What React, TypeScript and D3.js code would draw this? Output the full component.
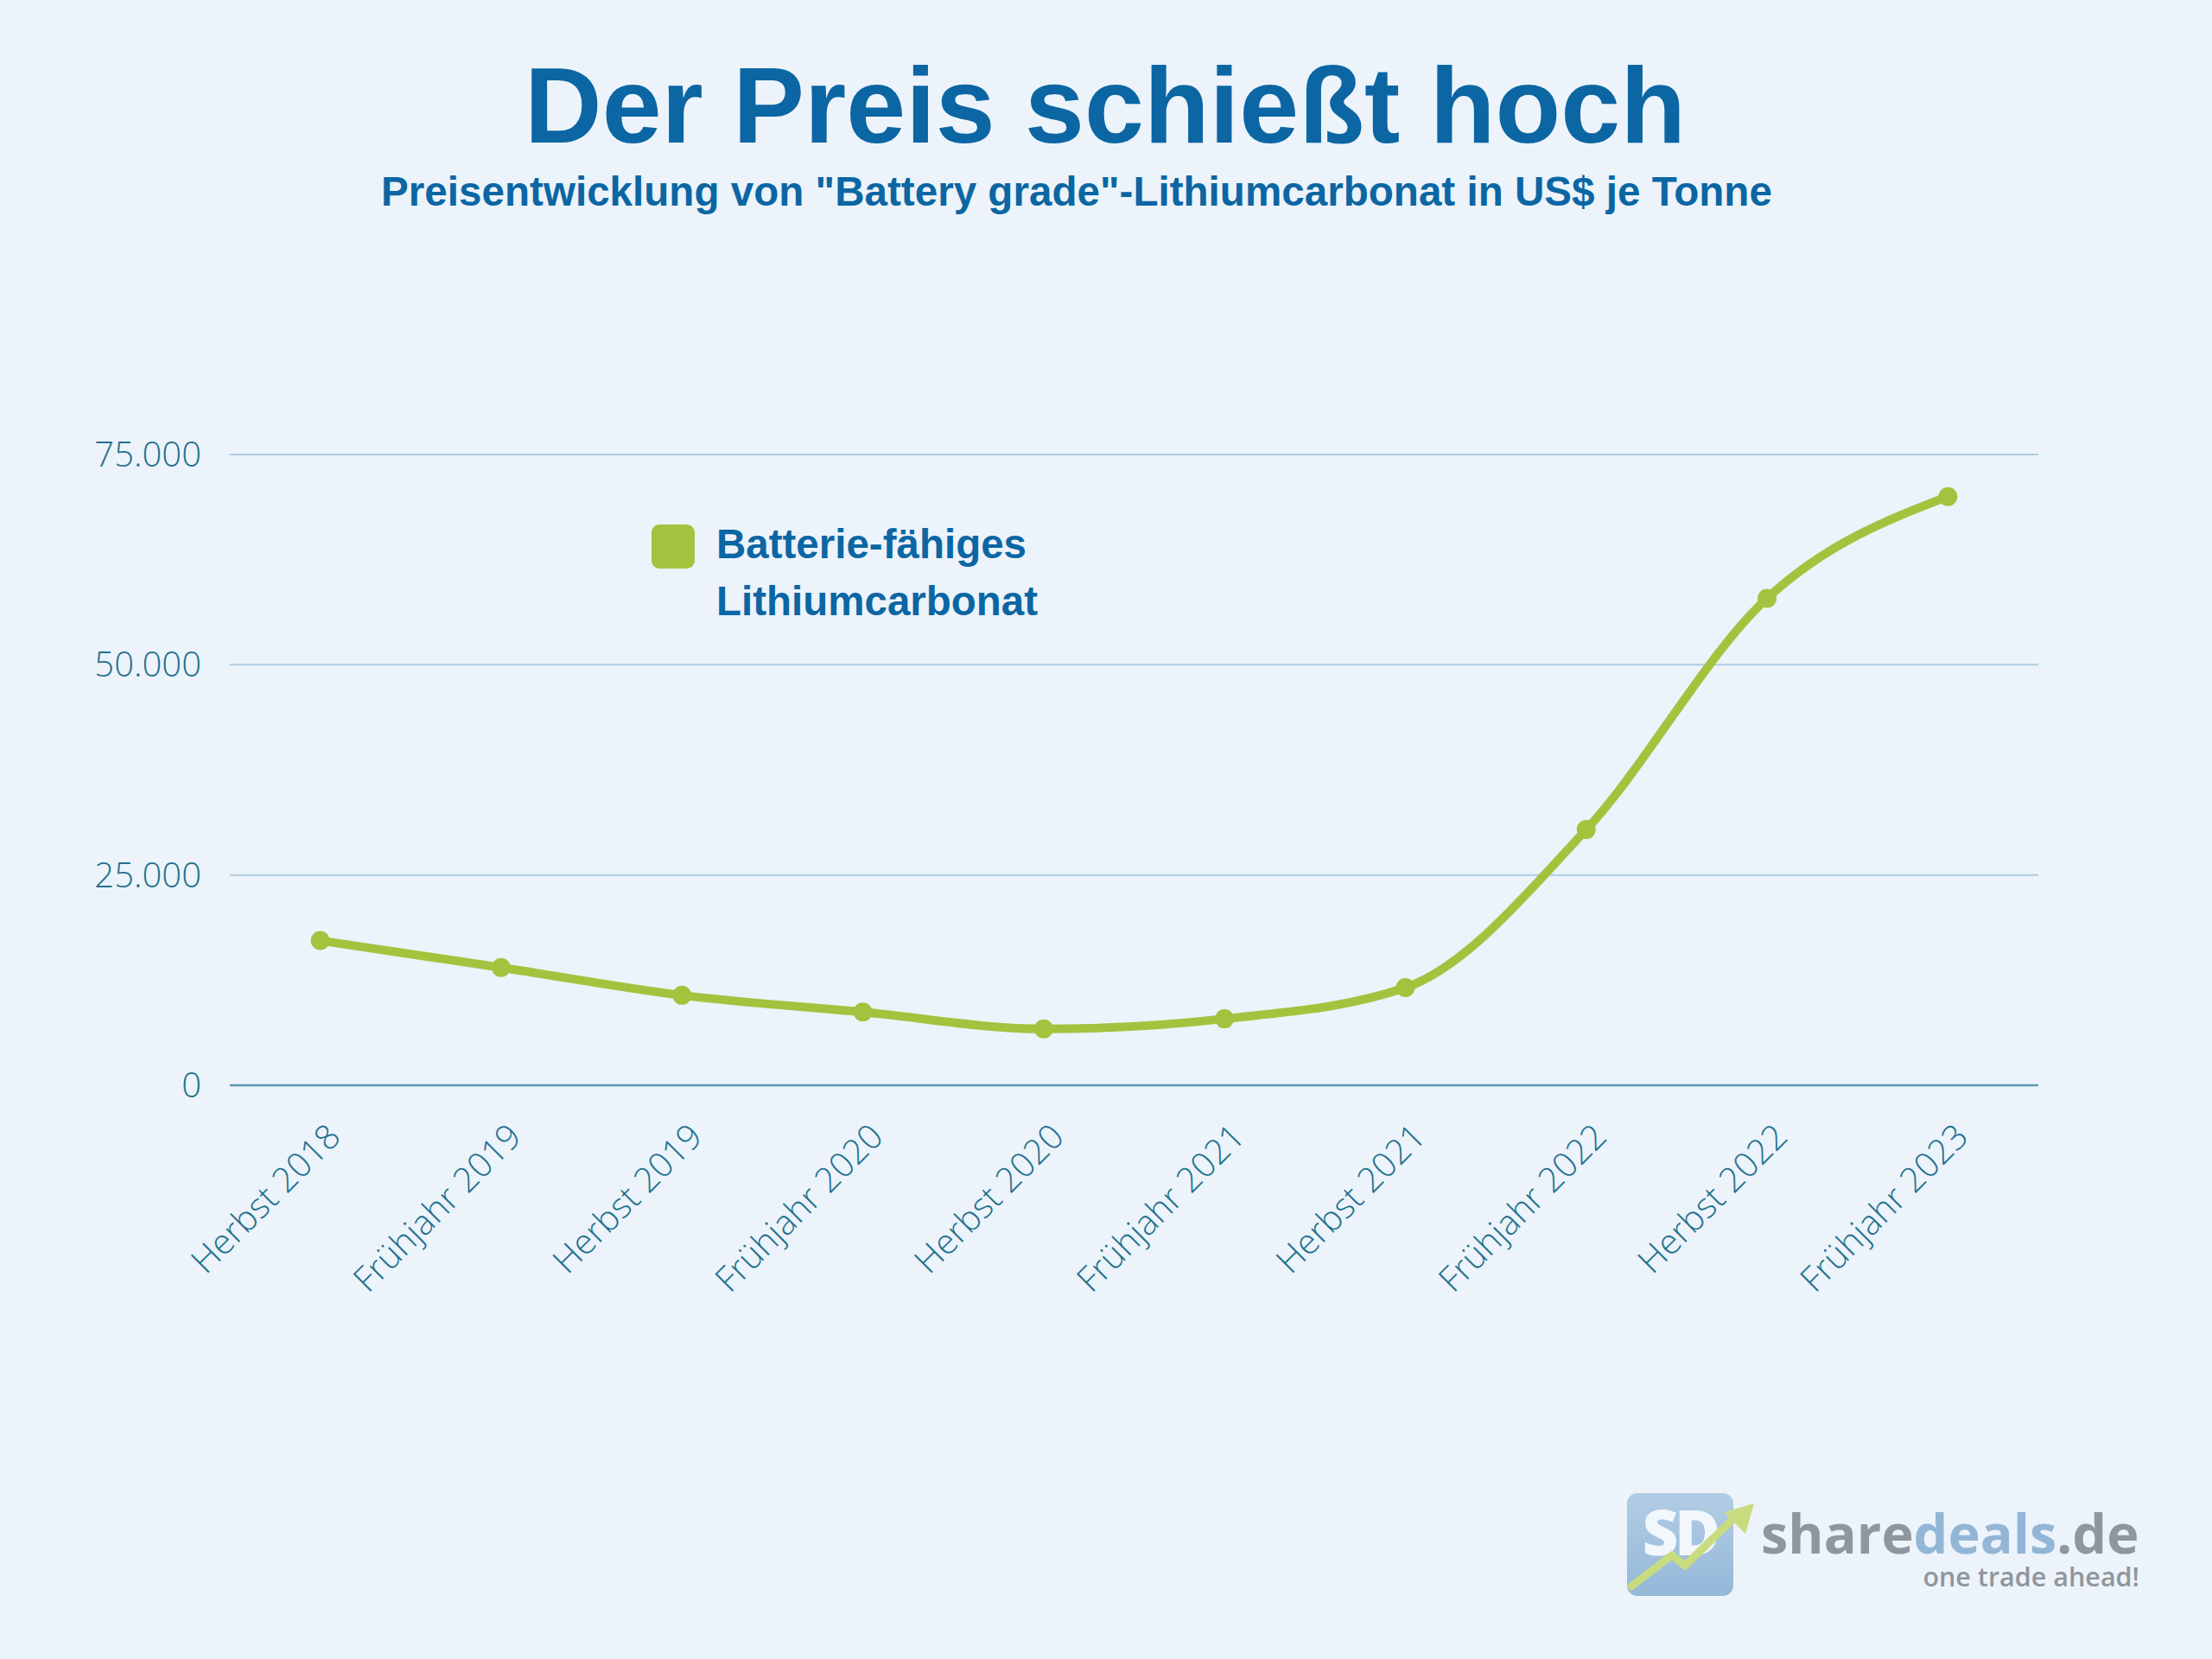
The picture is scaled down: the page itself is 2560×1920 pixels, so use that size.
import React from 'react';
import * as d3 from 'd3';

const categories = [
  'Herbst 2018', 'Frühjahr 2019', 'Herbst 2019', 'Frühjahr 2020', 'Herbst 2020',
  'Frühjahr 2021', 'Herbst 2021', 'Frühjahr 2022', 'Herbst 2022', 'Frühjahr 2023',
];
const prices = [17200, 14000, 10700, 8700, 6700, 7900, 11600, 30400, 57900, 70000];
const yTicks = [0, 25000, 50000, 75000];

const title = 'Der Preis schießt hoch';
const subtitle = 'Preisentwicklung von "Battery grade"-Lithiumcarbonat in US$ je Tonne';
const legendLines = ['Batterie-fähiges', 'Lithiumcarbonat'];

const W = 2560;
const H = 1920;
const BG = '#ecf3fa';
const GREEN = '#a5c23f';
const BLUE = '#0b66a3';
const TEAL = '#22718e';

const App = () => {
  const x = d3.scalePoint<string>().domain(categories).range([266, 2359]).padding(0.5);
  const y = d3.scaleLinear().domain([0, 75000]).range([1256, 526]);
  const fmt = (v: number) => d3.format(',')(v).replace(/,/g, '.');

  const line = d3.line<number>()
    .x((_, i) => x(categories[i]) as number)
    .y(d => y(d))
    .curve(d3.curveMonotoneX);

  return (
    <svg width={W} height={H} style={{ position: 'absolute', left: 0, top: 0, display: 'block' }}>
      <rect width={W} height={H} fill={BG} />

      {/* titles */}
      <text x={1279} y={165} textAnchor="middle" fill={BLUE}
        fontFamily="Liberation Sans, Arial, sans-serif" fontWeight="bold" fontSize={124}>
        {title}
      </text>
      <text x={1246} y={238} textAnchor="middle" fill={BLUE}
        fontFamily="Liberation Sans, Arial, sans-serif" fontWeight="bold" fontSize={47.6}>
        {subtitle}
      </text>

      {/* grid + y labels */}
      {yTicks.map(t => (
        <g key={t}>
          <line x1={266} x2={2359} y1={y(t)} y2={y(t)}
            stroke={t === 0 ? '#5e97b0' : '#aecde0'} strokeWidth={t === 0 ? 2.5 : 2} />
          <text x={233} y={y(t)} dy="0.35em" textAnchor="end" fill={TEAL}
            fontFamily="Open Sans, sans-serif" fontWeight={300} fontSize={40}>
            {fmt(t)}
          </text>
        </g>
      ))}

      {/* x labels */}
      {categories.map(c => {
        const px = (x(c) as number) + 6;
        const py = 1298;
        return (
          <text key={c} x={px} y={py} textAnchor="end" fill={TEAL}
            transform={`rotate(-45 ${px} ${py})`} dy="0.7em"
            fontFamily="Open Sans, sans-serif" fontWeight={300} fontSize={40}>
            {c}
          </text>
        );
      })}

      {/* series */}
      <path d={line(prices) || ''} fill="none" stroke={GREEN} strokeWidth={10}
        strokeLinecap="round" strokeLinejoin="round" />
      {prices.map((p, i) => (
        <circle key={i} cx={x(categories[i]) as number} cy={y(p)} r={11} fill={GREEN} />
      ))}

      {/* legend */}
      <rect x={754} y={607} width={50} height={51} rx={9} fill={GREEN} />
      {legendLines.map((t, i) => (
        <text key={t} x={829} y={646 + i * 66} fill={BLUE}
          fontFamily="Liberation Sans, Arial, sans-serif" fontWeight="bold" fontSize={47.5}>
          {t}
        </text>
      ))}

      {/* logo */}
      <g opacity={0.85}>
        <defs>
          <linearGradient id="sdg" x1="0" y1="0" x2="0" y2="1">
            <stop offset="0" stopColor="#a9c6e0" />
            <stop offset="1" stopColor="#86afd4" />
          </linearGradient>
        </defs>
        <rect x={1883} y={1728} width={123} height={119} rx={12} fill="url(#sdg)" />
        <text x={1944} y={1800} textAnchor="middle" fill="#f4f8fc"
          fontFamily="Open Sans, sans-serif" fontWeight={800} fontSize={72} letterSpacing={-4}>
          SD
        </text>
        <polyline points="1885,1838 1935,1800 1950,1812 2012,1752" fill="none"
          stroke="#c2d86a" strokeWidth={9} strokeLinejoin="round" />
        <polygon points="1995,1750 2030,1740 2020,1775" fill="#c2d86a" />
        <text x={2038} y={1798} fontFamily="Open Sans, sans-serif" fontWeight={700} fontSize={63}>
          <tspan fill="#7f868d">share</tspan>
          <tspan fill="#84acd1">deals</tspan>
          <tspan fill="#7f868d">.de</tspan>
        </text>
        <text x={2476} y={1836} textAnchor="end" fill="#7f868d"
          fontFamily="Open Sans, sans-serif" fontWeight={600} fontSize={30.5}>
          one trade ahead!
        </text>
      </g>
    </svg>
  );
};

export default App;
